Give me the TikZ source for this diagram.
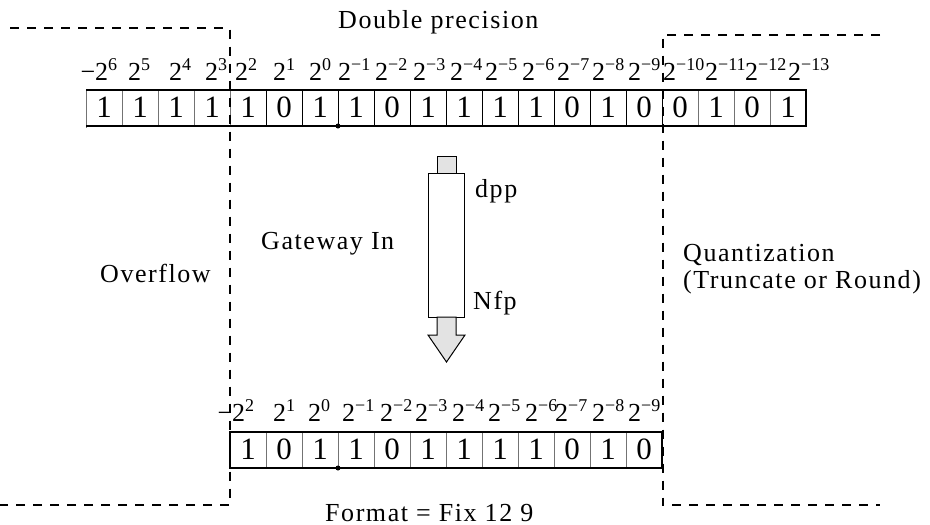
\documentclass[tikz,border=0pt]{standalone}
\usepackage{fontspec}
\setmainfont{Liberation Serif}
\newfontfamily\lsfont{Liberation Serif}[LetterSpace=6]
\newcommand\pwr[1]{2\raisebox{9.5pt}{\fontsize{18}{18}\selectfont #1}}
\newcommand\npwr[1]{\llap{−}\pwr{#1}}
\definecolor{arrowgray}{HTML}{E3E3E3}
\begin{document}
\begin{tikzpicture}[x=1pt,y=-1pt,
  txt/.style={font=\lsfont\fontsize{26}{30}\selectfont, anchor=base west, inner sep=0pt},
  dig/.style={font=\fontsize{31}{35}\selectfont, anchor=base, inner sep=0pt},
  lab/.style={font=\fontsize{26}{30}\selectfont, anchor=base west, inner sep=0pt},
  regline/.style={line width=1.2pt},
  divblack/.style={line width=1pt},
  divgray/.style={line width=0.9pt, black!55},
  zone/.style={line width=2pt, dash pattern=on 9pt off 8pt},
  bdot/.style={circle, fill, inner sep=0pt, minimum size=5pt},
  boxpart/.style={draw, line width=1pt, inner sep=0pt}]
\useasboundingbox (0,0) rectangle (930,525);

% ---------- top register (double precision) ----------
\foreach \i in {1,2,3,4,17,18,19}
  \draw[divgray] ({86+36*\i},90) -- ({86+36*\i},127);
\foreach \i in {5,...,16}
  \draw[divblack] ({86+36*\i},90) -- ({86+36*\i},126);
\draw[divgray] (86,90) -- (86,128);
\draw[regline] (86,90) -- (806,90) -- (806,126) -- (86,126);
\foreach \d [count=\i] in {1,1,1,1,1,0,1,1,0,1,1,1,1,0,1,0,0,1,0,1}
  \node[dig] (td\i) at ({86+36*\i-18},117.5) {\d};
\node[bdot] (tdot) at (338,126) {};

% top labels
\node[lab] (tl0) at (95,80) {\npwr{6}};
\foreach \x/\e [count=\i] in {128/5,169/4,205/3,235/2,273/1,309/0,338/−1,375/−2,413/−3,450/−4,485/−5,522/−6,557/−7,592/−8,628/−9,663/−10,705/−11,745/−12,788/−13}
  \node[lab] (tl\i) at (\x,80) {\pwr{\e}};

% ---------- bottom register (Fix 12 9) ----------
\foreach \i in {1,...,11}
  \draw[divgray] ({230+36*\i},432) -- ({230+36*\i},468);
\draw[regline] (230,432) rectangle (662,468);
\foreach \d [count=\i] in {1,0,1,1,0,1,1,1,1,0,1,0}
  \node[dig] (bd\i) at ({230+36*\i-18},459) {\d};
\node[bdot] (bdot) at (338,468) {};

% bottom labels
\node[lab] (bl0) at (232,421) {\npwr{2}};
\foreach \x/\e [count=\i] in {273/1,308/0,342/−1,380/−2,415/−3,452/−4,488/−5,525/−6,555/−7,592/−8,628/−9}
  \node[lab] (bl\i) at (\x,421) {\pwr{\e}};

% ---------- dashed zones ----------
\draw[zone] (10,28) -- (229.5,28) -- (229.5,505) -- (0,505);
\draw[zone] (880,35) -- (662.5,35) -- (662.5,505) -- (880,505);

% ---------- Gateway In block ----------
\node[boxpart, fill=arrowgray, minimum width=19pt, minimum height=17pt] (inport) at (446.5,164.5) {};
\node[boxpart, fill=white, minimum width=36pt, minimum height=144pt] (gw) at (446,245) {};
\draw[line width=1pt, fill=arrowgray]
  (437,317) -- (437,335) -- (428,335) -- (446.5,362) -- (465,335) -- (456,335) -- (456,317) -- cycle;

% ---------- texts ----------
\node[txt] (title) at (338,28) {Double precision};
\node[txt] (ovf) at (100,282) {Overflow};
\node[txt] (gwlab) at (261,249) {Gateway In};
\node[txt] (dpp) at (475,197) {dpp};
\node[txt] (nfp) at (473,309) {Nfp};
\node[txt] (quant) at (683,261) {Quantization};
\node[txt] (trunc) at (683,288) {(Truncate or Round)};
\node[txt] (fmt) at (325,521) {Format = Fix 12 9};
\end{tikzpicture}
\end{document}
